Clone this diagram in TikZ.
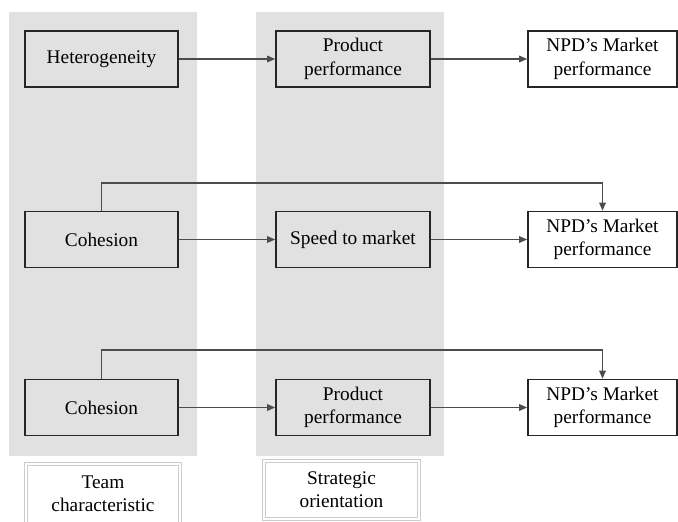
\documentclass[tikz,border=0pt]{standalone}
\usepackage{fontspec}
\setmainfont{Liberation Serif}
\usetikzlibrary{arrows.meta,positioning,calc}
\definecolor{colgray}{HTML}{E1E1E1}
\definecolor{boxline}{HTML}{262626}

\begin{document}
\begin{tikzpicture}[x=0.75pt, y=-0.75pt,
      font=\fontsize{14.5}{17.5}\selectfont,
      box/.style={draw=boxline, line width=1.3pt, minimum height=42pt,
          inner sep=0pt, align=center},
      leftbox/.style={box, fill=colgray, minimum width=114.75pt},
      midbox/.style={box, fill=colgray, minimum width=115.5pt},
      outbox/.style={box, fill=white, minimum width=111.75pt},
      tagbox/.style={draw=black!20, line width=0.5pt, double=white,
          double distance=1.5pt, inner sep=0pt, align=center},
      link/.style={draw=black!70, line width=0.8pt,
          -{Triangle[length=6pt, width=5pt]}}]

      \useasboundingbox (0,0) rectangle (678,521);

      % shaded columns
      \fill[colgray] (9,12) rectangle (197,456);
      \fill[colgray] (256,12) rectangle (444,456);

      % row 1
      \node[leftbox] (het) at (101.5,59) {Heterogeneity};
      \node[midbox] (prod1) at (353,59) {Product\\performance};
      \node[outbox] (npd1) at (602.5,59) {NPD’s Market\\performance};

      % row 2
      \node[leftbox] (coh2) at (101.5,239.5) {Cohesion};
      \node[midbox] (speed) at (353,239.5) {Speed to market};
      \node[outbox] (npd2) at (602.5,239.5) {NPD’s Market\\performance};

      % row 3
      \node[leftbox] (coh3) at (101.5,407.5) {Cohesion};
      \node[midbox] (prod3) at (353,407.5) {Product\\performance};
      \node[outbox] (npd3) at (602.5,407.5) {NPD’s Market\\performance};

      % column labels
      \node[tagbox, minimum width=115.5pt, minimum height=45pt] (team)
          at (103,494) {Team\\characteristic};
      \node[tagbox, minimum width=116.25pt, minimum height=43.5pt] (strat)
          at (341.5,490) {Strategic\\orientation};

      \draw[link] (het) -- (prod1);
      \draw[link] (prod1) -- (npd1);
      \draw[link] (coh2) -- (speed);
      \draw[link] (speed) -- (npd2);
      \draw[link] (coh3) -- (prod3);
      \draw[link] (prod3) -- (npd3);

      % direct paths
      \coordinate (by2) at (101.5,183);
      \coordinate (by3) at (101.5,350);
      \draw[link] (coh2.north) -- (by2) -| (npd2.north);
      \draw[link] (coh3.north) -- (by3) -| (npd3.north);
\end{tikzpicture}
\end{document}
